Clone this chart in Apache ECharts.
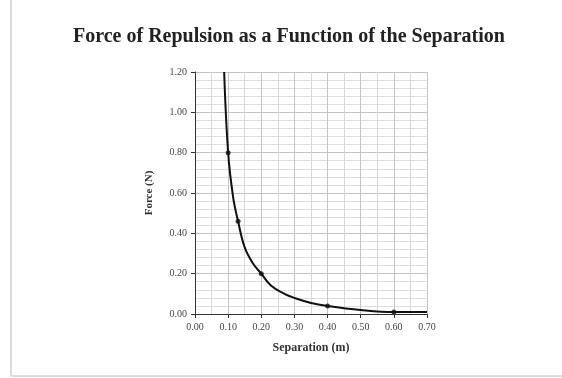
<!DOCTYPE html>
<html>
<head>
<meta charset="utf-8">
<script src="https://cdn.jsdelivr.net/npm/echarts@6/dist/echarts.min.js"></script>
<style>
  html, body { margin: 0; padding: 0; background: #fff; }
  #chart { width: 562px; height: 378px; }
</style>
</head>
<body>
<div id="chart"></div>
<script>
    // curve
    var separation = [0.088, 0.10, 0.115, 0.13, 0.15, 0.175, 0.20, 0.23, 0.27, 0.30, 0.35, 0.40, 0.50, 0.60, 0.70];
    var force      = [1.20, 0.80, 0.58, 0.46, 0.33, 0.25, 0.20, 0.14, 0.10, 0.08, 0.055, 0.04, 0.02, 0.01, 0.01];
    // measured points (markers)
    var pointSep   = [0.10, 0.13, 0.20, 0.40, 0.60];
    var pointForce = [0.80, 0.46, 0.20, 0.04, 0.01];

    var curveData = separation.map(function (s, i) { return [s, force[i]]; });
    var pointData = pointSep.map(function (s, i) { return [s, pointForce[i]]; });

    var chart = echarts.init(document.getElementById('chart'));
    var serif = '"Liberation Serif", "DejaVu Serif", serif';

    var option = {
        backgroundColor: '#fff',
        animation: false,
        title: {
            text: 'Force of Repulsion as a Function of the Separation',
            left: 68,
            top: 22,
            textStyle: {
                fontFamily: serif,
                fontWeight: 'bold',
                fontSize: 20,
                color: '#222'
            }
        },
        graphic: [
            { type: 'line', shape: { x1: 11, y1: 0, x2: 11, y2: 376 }, style: { stroke: '#dadada', lineWidth: 2 } },
            { type: 'line', shape: { x1: 11, y1: 376, x2: 562, y2: 376 }, style: { stroke: '#dadada', lineWidth: 2 } }
        ],
        grid: {
            left: 195,
            right: 135,
            top: 72,
            bottom: 64
        },
        xAxis: {
            type: 'value',
            min: 0,
            max: 0.7,
            interval: 0.1,
            name: 'Separation (m)',
            nameLocation: 'middle',
            nameGap: 28,
            nameTextStyle: { fontFamily: serif, fontWeight: 'bold', fontSize: 12, color: '#333' },
            axisLine: { show: true, lineStyle: { color: '#333', width: 1 } },
            axisTick: { show: true, inside: false, length: 4, lineStyle: { color: '#333' } },
            axisLabel: {
                fontFamily: serif, fontSize: 10, color: '#444', margin: 8,
                formatter: function (v) { return v.toFixed(2); }
            },
            splitLine: { show: true, lineStyle: { color: '#c4c4c4', width: 1 } },
            minorTick: { show: true, splitNumber: 2, length: 0 },
            minorSplitLine: { show: true, lineStyle: { color: '#d8d8d8', width: 1 } }
        },
        yAxis: {
            type: 'value',
            min: 0,
            max: 1.2,
            interval: 0.2,
            name: 'Force (N)',
            nameLocation: 'middle',
            nameGap: 40,
            nameRotate: 90,
            nameTextStyle: { fontFamily: serif, fontWeight: 'bold', fontSize: 11, color: '#333' },
            axisLine: { show: true, lineStyle: { color: '#333', width: 1 } },
            axisTick: { show: true, inside: false, length: 4, lineStyle: { color: '#333' } },
            axisLabel: {
                fontFamily: serif, fontSize: 10, color: '#444', margin: 8,
                formatter: function (v) { return v.toFixed(2); }
            },
            splitLine: { show: true, lineStyle: { color: '#c4c4c4', width: 1 } },
            minorTick: { show: true, splitNumber: 5, length: 0 },
            minorSplitLine: { show: true, lineStyle: { color: '#dedede', width: 1 } }
        },
        series: [
            {
                name: 'curve',
                type: 'line',
                data: curveData,
                smooth: 0.4,
                showSymbol: false,
                lineStyle: { color: '#111', width: 2 }
            },
            {
                name: 'points',
                type: 'scatter',
                data: pointData,
                symbol: 'circle',
                symbolSize: 5,
                itemStyle: { color: '#111' }
            }
        ]
    };

    chart.setOption(option);
</script>
</body>
</html>
